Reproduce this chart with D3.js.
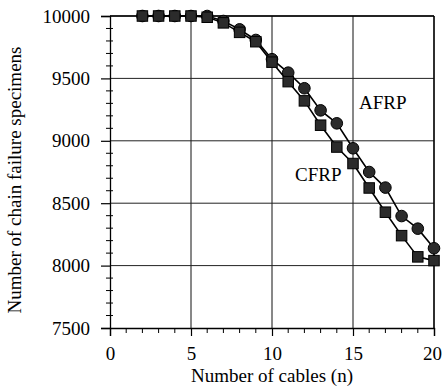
<!DOCTYPE html>
<html>
<head>
<meta charset="utf-8">
<script src="https://cdn.jsdelivr.net/npm/d3@7"></script>
<style>
  html, body { margin: 0; padding: 0; background: #fff; }
  svg { display: block; }
  text { font-family: "Liberation Serif", "Times New Roman", serif; fill: #000; }
</style>
</head>
<body>
<svg id="chart" width="442" height="390"></svg>
<script>
// ---- data ----
const cables = [2, 3, 4, 5, 6, 7, 8, 9, 10, 11, 12, 13, 14, 15, 16, 17, 18, 19, 20];
const afrp = [10000, 10000, 10000, 10000, 10000, 9960, 9893, 9808, 9654, 9546, 9421, 9244, 9140, 8940, 8750, 8625, 8397, 8296, 8139];
const cfrp = [10000, 10000, 10000, 10000, 9990, 9945, 9869, 9794, 9630, 9474, 9320, 9125, 8950, 8818, 8622, 8428, 8240, 8070, 8040];
const xTicks = [0, 5, 10, 15, 20];
const yTicks = [7500, 8000, 8500, 9000, 9500, 10000];
const seriesLabels = ["AFRP", "CFRP"];

// ---- layout ----
const svg = d3.select("#chart");
const mL = 110, mR = 434, mT = 16, mB = 328;
const x = d3.scaleLinear().domain([0, 20]).range([mL, mR]);
const y = d3.scaleLinear().domain([7500, 10000]).range([mB, mT]);
const serif = '"Liberation Serif", "Times New Roman", serif';

// grid lines
const g = svg.append("g");
g.selectAll("line.vg").data(xTicks.filter(d => d > 0)).join("line")
  .attr("x1", d => x(d)).attr("x2", d => x(d))
  .attr("y1", mT).attr("y2", mB)
  .attr("stroke", "#111").attr("stroke-width", 1);
g.selectAll("line.hg").data(yTicks.filter(d => d > 7500)).join("line")
  .attr("x1", mL).attr("x2", mR)
  .attr("y1", d => y(d)).attr("y2", d => y(d))
  .attr("stroke", "#222").attr("stroke-width", 1);

// x axis
const xAxisMajor = d3.axisBottom(x).tickValues(xTicks).tickSize(8).tickPadding(11).tickFormat(d3.format("d"));
const xa = svg.append("g").attr("transform", `translate(0,${mB})`).call(xAxisMajor)
  .attr("font-family", serif).attr("font-size", 19);
xa.select(".domain").attr("stroke", "#000").attr("stroke-width", 1.3);
xa.selectAll(".tick line").attr("stroke", "#000").attr("stroke-width", 1.2);
xa.selectAll("text").style("font-family", serif).style("font-size", "19px")
  .attr("dx", d => d === 20 ? -2 : 0);
const xMinor = d3.range(1, 20).filter(d => d % 5 !== 0);
svg.append("g").selectAll("line").data(xMinor).join("line")
  .attr("x1", d => x(d)).attr("x2", d => x(d))
  .attr("y1", mB).attr("y2", mB + 5)
  .attr("stroke", "#000").attr("stroke-width", 1);

// y axis
const yAxisMajor = d3.axisLeft(y).tickValues(yTicks).tickSize(9).tickPadding(11).tickFormat(d3.format("d"));
const ya = svg.append("g").attr("transform", `translate(${mL},0)`).call(yAxisMajor)
  .attr("font-family", serif).attr("font-size", 19);
ya.select(".domain").attr("stroke", "#000").attr("stroke-width", 1.3);
ya.selectAll(".tick line").attr("stroke", "#000").attr("stroke-width", 1.2);
ya.selectAll("text").style("font-family", serif).style("font-size", "19px");
const yMinor = d3.range(7600, 10000, 100).filter(d => d % 500 !== 0);
svg.append("g").selectAll("line").data(yMinor).join("line")
  .attr("x1", mL - 4).attr("x2", mL + 3)
  .attr("y1", d => y(d)).attr("y2", d => y(d))
  .attr("stroke", "#000").attr("stroke-width", 1);

// frame top & right
svg.append("line").attr("x1", mL).attr("x2", mR).attr("y1", mT).attr("y2", mT)
  .attr("stroke", "#000").attr("stroke-width", 1.3);
svg.append("line").attr("x1", mR).attr("x2", mR).attr("y1", mT).attr("y2", mB)
  .attr("stroke", "#000").attr("stroke-width", 1.3);

// series lines
const line = d3.line().x((d, i) => x(cables[i])).y(d => y(d));
svg.append("path").datum(afrp).attr("d", line).attr("fill", "none").attr("stroke", "#000").attr("stroke-width", 1.6);
svg.append("path").datum(cfrp).attr("d", line).attr("fill", "none").attr("stroke", "#000").attr("stroke-width", 1.6);

// markers
svg.append("g").selectAll("circle").data(afrp).join("circle")
  .attr("cx", (d, i) => x(cables[i])).attr("cy", d => y(d)).attr("r", 5.8)
  .attr("fill", "#2b2b2b").attr("stroke", "#000").attr("stroke-width", 1);
const s = 10.5;
svg.append("g").selectAll("rect").data(cfrp).join("rect")
  .attr("x", (d, i) => x(cables[i]) - s / 2).attr("y", d => y(d) - s / 2)
  .attr("width", s).attr("height", s)
  .attr("fill", "#2b2b2b").attr("stroke", "#000").attr("stroke-width", 1);

// series labels
svg.append("text").attr("x", 359).attr("y", 109).style("font-size", "19px").text(seriesLabels[0]);
svg.append("text").attr("x", 295).attr("y", 181).style("font-size", "19px").text(seriesLabels[1]);

// axis titles
svg.append("text").attr("x", (mL + mR) / 2).attr("y", 382).attr("text-anchor", "middle")
  .style("font-size", "19px").text("Number of cables (n)");
svg.append("text").attr("transform", `translate(21,180) rotate(-90)`).attr("text-anchor", "middle")
  .style("font-size", "19px").text("Number of chain failure specimens");
</script>
</body>
</html>
